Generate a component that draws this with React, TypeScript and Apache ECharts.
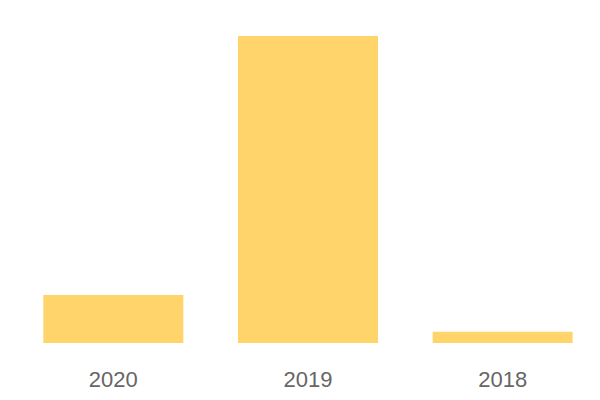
import React, { useEffect, useRef } from "react";
import * as echarts from "echarts";

const categories = ["2020", "2019", "2018"];
const values = [15.6, 100, 3.7];

export default function App() {
  const ref = useRef<HTMLDivElement>(null);
  useEffect(() => {
    if (!ref.current) return;
    const chart = echarts.init(ref.current, undefined, { renderer: "svg" });
    chart.setOption({
      animation: false,
      backgroundColor: "#ffffff",
      grid: { left: 16, right: 0, top: 36, bottom: 57, containLabel: false },
      xAxis: {
        type: "category",
        data: categories,
        axisLine: { show: false },
        axisTick: { show: false },
        axisLabel: {
          color: "#666666",
          fontSize: 22,
          fontFamily: "Liberation Sans",
          margin: 25,
        },
      },
      yAxis: {
        type: "value",
        min: 0,
        max: 100,
        show: false,
        splitLine: { show: false },
      },
      series: [
        {
          type: "bar",
          data: values,
          barWidth: 140,
          itemStyle: { color: "#FED46B" },
        },
      ],
    });
    return () => chart.dispose();
  }, []);
  return (
    <div
      ref={ref}
      style={{ position: "fixed", left: 0, top: 0, width: 600, height: 400 }}
    />
  );
}
